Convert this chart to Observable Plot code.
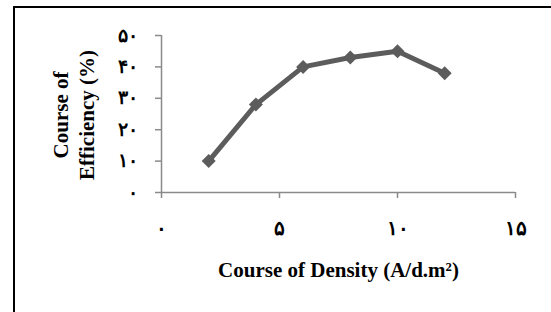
<!DOCTYPE html>
<html>
<head>
<meta charset="utf-8">
<script src="https://cdn.jsdelivr.net/npm/d3@7"></script>
<script src="https://cdn.jsdelivr.net/npm/@observablehq/plot@0.6"></script>
<style>
  html, body { margin: 0; padding: 0; background: white; }
  #wrap { position: relative; width: 551px; height: 312px; overflow: hidden; }
  #border { position: absolute; left: 13px; top: 6px; width: 600px; height: 400px;
            border-left: 2.5px solid #000; border-top: 2.5px solid #000; pointer-events: none; }
</style>
</head>
<body>
<div id="wrap"><div id="border"></div></div>
<script>
const densities = [2, 4, 6, 8, 10, 12];
const efficiencies = [10, 28, 40, 43, 45, 38];
const xTicks = [0, 5, 10, 15];
const xTickLabels = ["۰", "۵", "۱۰", "۱۵"];
const yTicks = [0, 10, 20, 30, 40, 50];
const yTickLabels = ["۰", "۱۰", "۲۰", "۳۰", "۴۰", "۵۰"];
const xTitle = "Course of Density (A/d.m²)";
const yTitle = "Course of\nEfficiency (%)";

const data = densities.map((d, i) => ({density: d, efficiency: efficiencies[i]}));
const font = "'Liberation Serif', 'Times New Roman', 'DejaVu Serif', serif";

const chart = Plot.plot({
  width: 551,
  height: 312,
  marginLeft: 161,
  marginRight: 36,
  marginTop: 35,
  marginBottom: 120,
  x: {domain: [0, 15]},
  y: {domain: [0, 50]},
  style: {fontFamily: font, fontWeight: "bold", background: "transparent", color: "black"},
  marks: [
    Plot.ruleY([0], {stroke: "#8a8a8a", strokeWidth: 1.5}),
    Plot.ruleX([0], {stroke: "#8a8a8a", strokeWidth: 1.5}),
    Plot.axisX({ticks: xTicks, tickFormat: d => xTickLabels[xTicks.indexOf(d)], tickSize: 6,
      stroke: "#8a8a8a", strokeWidth: 1.5, tickPadding: 22, fontSize: 20, fill: "black", label: null}),
    Plot.axisY({ticks: yTicks, tickFormat: d => yTickLabels[yTicks.indexOf(d)], tickSize: 6,
      stroke: "#8a8a8a", strokeWidth: 1.5, tickPadding: 18, fontSize: 19, fill: "black", label: null}),
    Plot.line(data, {x: "density", y: "efficiency", stroke: "#5c5c5c", strokeWidth: 5}),
    Plot.dot(data, {x: "density", y: "efficiency", symbol: "diamond2", r: 6.3, fill: "#5c5c5c"}),
    Plot.text([xTitle], {frameAnchor: "bottom", lineAnchor: "middle", dy: 78, fontSize: 21, fontWeight: "bold", fill: "black"}),
    Plot.text([yTitle], {frameAnchor: "left", textAnchor: "middle", lineAnchor: "middle", dx: -88.5, dy: 1, rotate: -90, lineHeight: 1.2, fontSize: 21, fontWeight: "bold", fill: "black"})
  ]
});
document.getElementById("wrap").prepend(chart);
</script>
</body>
</html>
